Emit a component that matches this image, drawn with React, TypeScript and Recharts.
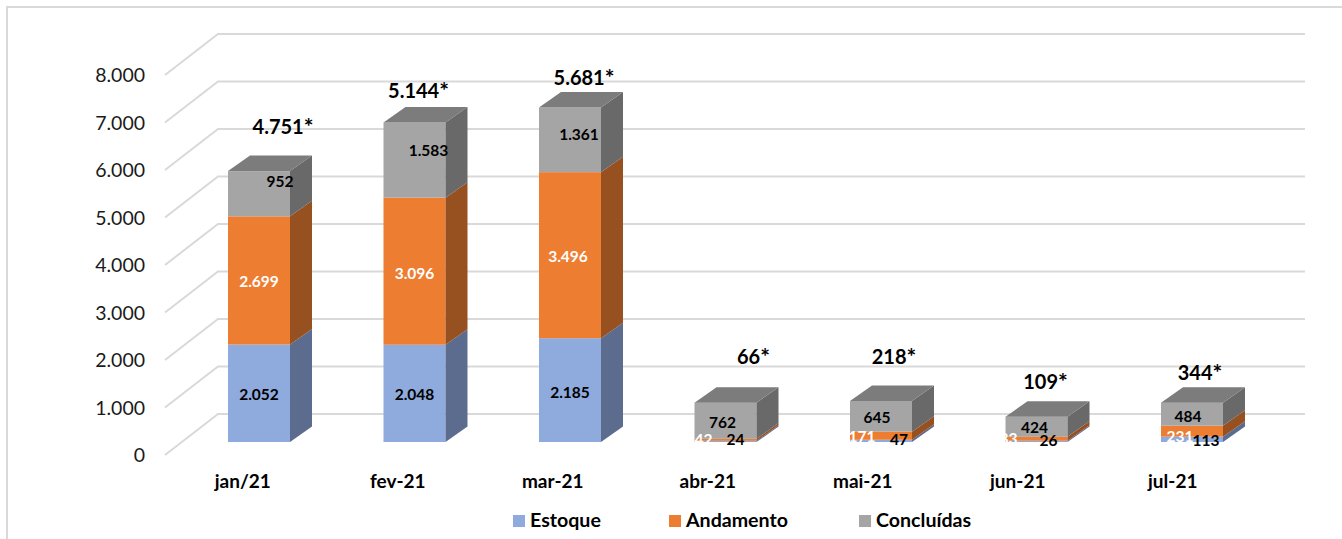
import { Bar, BarChart, CartesianGrid, LabelList, Legend, XAxis, YAxis } from "recharts"

const months = ["jan/21", "fev-21", "mar-21", "abr-21", "mai-21", "jun-21", "jul-21"]
const estoque = [2052, 2048, 2185, 24, 47, 26, 113]
const andamento = [2699, 3096, 3496, 42, 171, 83, 231]
const concluidas = [952, 1583, 1361, 762, 645, 424, 484]
const totals = [4751, 5144, 5681, 66, 218, 109, 344]
const yTicks = [0, 1000, 2000, 3000, 4000, 5000, 6000, 7000, 8000]

const data = months.map((month, i) => ({
    month,
    estoque: estoque[i],
    andamento: andamento[i],
    concluidas: concluidas[i],
    total: totals[i],
}))

// hand placement of the labels, they sit off-centre in the original
const estoqueNudge = [[0, 1], [0, 1], [0, 2], [10, -2], [18, -2], [12, -1], [14, 1]]
const andamentoNudge = [[0, 1], [0, 2], [-2, 1], [-22, -1], [-19, 0], [-28, -1], [-12, 5]]
const concluidasNudge = [[21, -13], [14, -10], [9, -6], [-3, 1], [-4, 1], [-2, 0], [-4, 2]]
const totalNudge = [[24, -45], [4, -32], [14, -31], [28, -47], [13, -45], [9, -36], [8, -31]]

const FONT = "Lato, 'Noto Sans', sans-serif"
const DEPTH_X = 22
const DEPTH_Y = 15.5
const GRID = "#d9d9d9"

const fmt = (v: number) => String(v).replace(/\B(?=(\d{3})+$)/g, ".")

function Box3D({ x, y, width, height, fill, side, top }: any) {
    const r = x + width
    const b = y + height
    return (
        <g>
            <rect x={x} y={y} width={width} height={height} fill={fill} />
            <polygon points={`${r},${b} ${r + DEPTH_X},${b - DEPTH_Y} ${r + DEPTH_X},${y - DEPTH_Y} ${r},${y}`} fill={side} />
            {top && <polygon points={`${x},${y} ${x + DEPTH_X},${y - DEPTH_Y} ${r + DEPTH_X},${y - DEPTH_Y} ${r},${y}`} fill={top} />}
        </g>
    )
}

function barLabel(nudge: number[][], color: string) {
    return ({ x, y, width, height, value, index }: any) => (
        <text
            x={x + width / 2 + nudge[index][0]}
            y={y + height / 2 + nudge[index][1]}
            textAnchor="middle"
            dominantBaseline="central"
            fontFamily={FONT}
            fontWeight={700}
            fontSize={15.5}
            fill={color}
        >
            {fmt(value)}
        </text>
    )
}

function totalLabel({ x, y, width, value, index }: any) {
    return (
        <text
            x={x + width / 2 + totalNudge[index][0]}
            y={y + totalNudge[index][1]}
            textAnchor="middle"
            dominantBaseline="central"
            fontFamily={FONT}
            fontWeight={700}
            fontSize={20}
            fill="#000"
        >
            {fmt(value)}<tspan fontSize={23}>*</tspan>
        </text>
    )
}

function GridLine({ x1, y1, key }: any) {
    return (
        <polyline
            key={key}
            points={`${x1 - 16},${y1 + 13} ${x1 + 37},${y1 - 28} 1305,${y1 - 28}`}
            fill="none"
            stroke={GRID}
            strokeWidth={2}
        />
    )
}

function YTick({ x, y, payload }: any) {
    return (
        <text x={x - 28} y={y + 12.5} textAnchor="end" dominantBaseline="central" fontFamily={FONT} fontSize={19.5} fill="#1a1a1a">
            {fmt(payload.value)}
        </text>
    )
}

function XTick({ x, y, payload, index }: any) {
    return (
        <text x={x - 16 - index * 0.5} y={y + 30} textAnchor="middle" dominantBaseline="central" fontFamily={FONT} fontWeight={700} fontSize={19} fill="#000">
            {payload.value}
        </text>
    )
}

const legendItems = [
    { name: "Estoque", color: "#8faadc", left: 513 },
    { name: "Andamento", color: "#ed7d31", left: 669 },
    { name: "Concluídas", color: "#a5a5a5", left: 859 },
]

function ChartLegend() {
    return (
        <div style={{ position: "relative", height: 37, fontFamily: FONT, fontWeight: 700, fontSize: 19.6, color: "#000" }}>
            {legendItems.map((item) => (
                <div key={item.name} style={{ position: "absolute", left: item.left, top: 8, lineHeight: "20px", whiteSpace: "nowrap" }}>
                    <span style={{ display: "inline-block", width: 12, height: 12, marginRight: 5, background: item.color }} />
                    {item.name}
                </div>
            ))}
        </div>
    )
}

export default function App() {
    return (
        <div style={{ position: "absolute", left: 0, top: 0, width: 1342, height: 539, background: "#fff", overflow: "hidden" }}>
            <div style={{ position: "absolute", left: 6, top: 6, width: 1336, height: 533, borderTop: `2px solid ${GRID}`, borderLeft: `2px solid ${GRID}`, boxSizing: "border-box" }} />
            <BarChart
                width={1342}
                height={539}
                data={data}
                margin={{ top: 62, right: 72.5, bottom: 0, left: 0 }}
                barSize={62}
                style={{ position: "absolute", left: 0, top: 0 }}
            >
                <CartesianGrid vertical={false} horizontal={GridLine} />
                <XAxis dataKey="month" height={60} axisLine={false} tickLine={false} tick={XTick} interval={0} />
                <YAxis width={181} domain={[0, 8000]} ticks={yTicks} axisLine={false} tickLine={false} tick={YTick} interval={0} />
                <Legend verticalAlign="bottom" content={ChartLegend} />
                <Bar
                    dataKey="estoque"
                    name="Estoque"
                    stackId="a"
                    fill="#8faadc"
                    isAnimationActive={false}
                    shape={(p: any) => <Box3D {...p} side="#5c6c8e" />}
                >
                    <LabelList dataKey="estoque" content={barLabel(estoqueNudge, "#000")} />
                </Bar>
                <Bar
                    dataKey="andamento"
                    name="Andamento"
                    stackId="a"
                    fill="#ed7d31"
                    isAnimationActive={false}
                    shape={(p: any) => <Box3D {...p} side="#97501f" />}
                >
                    <LabelList dataKey="andamento" content={barLabel(andamentoNudge, "#fff")} />
                </Bar>
                <Bar
                    dataKey="concluidas"
                    name="Concluídas"
                    stackId="a"
                    fill="#a5a5a5"
                    isAnimationActive={false}
                    shape={(p: any) => <Box3D {...p} side="#696969" top="#7c7c7c" />}
                >
                    <LabelList dataKey="concluidas" content={barLabel(concluidasNudge, "#000")} />
                    <LabelList dataKey="total" content={totalLabel} />
                </Bar>
            </BarChart>
        </div>
    )
}
